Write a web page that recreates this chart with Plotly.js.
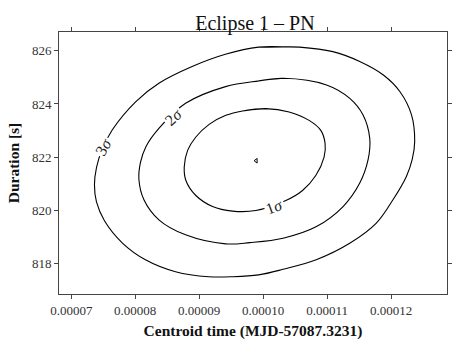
<!DOCTYPE html>
<html>
<head>
<meta charset="utf-8">
<script src="https://cdn.plot.ly/plotly-3.0.1.min.js"></script>
<style>html,body{margin:0;padding:0;background:#fff;}#chart{width:463px;height:348px;}</style>
</head>
<body>
<div id="chart"></div>
<script>
// Contour points (x: MJD-57087.3231, y: duration in s)
const sig3X = [10.31e-5, 9.93e-5, 9.41e-5, 8.89e-5, 8.37e-5, 8.01e-5, 7.64e-5, 7.48e-5, 7.394e-5, 7.3625e-5, 7.394e-5, 7.519e-5, 7.80e-5, 8.16e-5, 8.63e-5, 9.15e-5, 9.52e-5, 9.93e-5, 10.31e-5, 10.83e-5, 11.36e-5, 11.77e-5, 12.03e-5, 12.24e-5, 12.33e-5, 12.37e-5, 12.32e-5, 12.14e-5, 11.88e-5, 11.51e-5, 11.09e-5, 10.57e-5, 10.31e-5, 9.93e-5];
const sig3Y = [826.15, 826.14, 825.87, 825.41, 824.78, 824.09, 823.02, 822.275, 821.60, 820.955, 820.31, 819.60, 818.76, 818.13, 817.68, 817.49, 817.49, 817.56, 817.77, 818.13, 818.76, 819.51, 820.39, 821.27, 821.90, 822.58, 823.59, 824.46, 825.09, 825.60, 825.97, 826.14, 826.15, 826.14];

const sig2X = [10.3125e-5, 9.933e-5, 9.4125e-5, 8.7875e-5, 8.370e-5, 8.167e-5, 8.081e-5, 8.058e-5, 8.136e-5, 8.370e-5, 8.7875e-5, 9.4125e-5, 9.792e-5, 10.3125e-5, 10.834e-5, 11.25e-5, 11.511e-5, 11.641e-5, 11.667e-5, 11.5625e-5, 11.355e-5, 10.991e-5, 10.3125e-5, 9.933e-5];
const sig2Y = [824.966, 824.868, 824.653, 824.023, 823.079, 822.389, 821.785, 821.143, 820.389, 819.634, 819.068, 818.728, 818.777, 818.943, 819.381, 820.136, 821.019, 821.898, 822.702, 823.585, 824.211, 824.717, 824.966, 824.868];

const sig1X = [10.042e-5, 9.678e-5, 9.417e-5, 9.156e-5, 8.948e-5, 8.819e-5, 8.766e-5, 8.792e-5, 8.948e-5, 9.209e-5, 9.522e-5, 9.886e-5, 10.355e-5, 10.616e-5, 10.823e-5, 10.953e-5, 10.969e-5, 10.902e-5, 10.719e-5, 10.406e-5, 10.042e-5, 9.678e-5];
const sig1Y = [823.823, 823.736, 823.570, 823.230, 822.755, 822.249, 821.623, 821.117, 820.551, 820.136, 819.962, 819.985, 820.362, 820.740, 821.306, 822.000, 822.502, 823.004, 823.381, 823.698, 823.823, 823.736];

const bestX = [9.89e-5];
const bestY = [821.86];

const labelText = ["1<i>σ</i>", "2<i>σ</i>", "3<i>σ</i>"];
const labelX = [10.18e-5, 8.605e-5, 7.51e-5];
const labelY = [820.13, 823.52, 822.39];
const labelAngle = [-20, -43, -60];

const xTickVals = [7e-5, 8e-5, 9e-5, 10e-5, 11e-5, 12e-5];
const xTickText = ["0.00007", "0.00008", "0.00009", "0.00010", "0.00011", "0.00012"];
const yTickVals = [818, 820, 822, 824, 826];

const FONT = "Liberation Serif, Times New Roman, serif";
const lineStyle = {color: "#000", width: 1.1, shape: "spline", smoothing: 1};

const traces = [
  {x: sig3X, y: sig3Y, mode: "lines", line: lineStyle, hoverinfo: "skip"},
  {x: sig2X, y: sig2Y, mode: "lines", line: lineStyle, hoverinfo: "skip"},
  {x: sig1X, y: sig1Y, mode: "lines", line: lineStyle, hoverinfo: "skip"},
  {x: bestX, y: bestY, mode: "markers", marker: {symbol: "triangle-left-open", size: 4, color: "#000", line: {width: 1, color: "#000"}}, hoverinfo: "skip"}
];

const annotations = labelText.map((t, i) => ({
  x: labelX[i], y: labelY[i], xref: "x", yref: "y",
  text: t, showarrow: false, textangle: labelAngle[i],
  font: {family: FONT, size: 16, color: "#222"},
  bgcolor: "#fff", borderpad: 1
}));

const axisCommon = {
  showline: true, linecolor: "#444", linewidth: 1, mirror: "ticks",
  ticks: "outside", ticklen: 4, tickwidth: 1, tickcolor: "#444",
  showgrid: false, zeroline: false,
  tickfont: {family: FONT, size: 13, color: "#333"}
};

const layout = {
  width: 463, height: 348,
  margin: {l: 59, r: 16, t: 32, b: 54, pad: 0},
  paper_bgcolor: "#fff", plot_bgcolor: "#fff",
  showlegend: false,
  title: {text: "Eclipse 1 – PN", font: {family: FONT, size: 20, color: "#111"}, x: 0.505, xref: "paper", xanchor: "center", y: 0.935, yref: "container", yanchor: "middle"},
  xaxis: Object.assign({}, axisCommon, {
    range: [6.808e-5, 12.875e-5], tickvals: xTickVals, ticktext: xTickText,
    title: {text: "<b>Centroid time (MJD-57087.3231)</b>", font: {family: FONT, size: 15.5, color: "#111"}, standoff: 8}
  }),
  yaxis: Object.assign({}, axisCommon, {
    range: [816.84, 826.71], tickvals: yTickVals,
    title: {text: "<b>Duration [s]</b>", font: {family: FONT, size: 15.5, color: "#111"}, standoff: 8}
  }),
  annotations: annotations
};

Plotly.newPlot("chart", traces, layout, {displayModeBar: false, staticPlot: true});
</script>
</body>
</html>
